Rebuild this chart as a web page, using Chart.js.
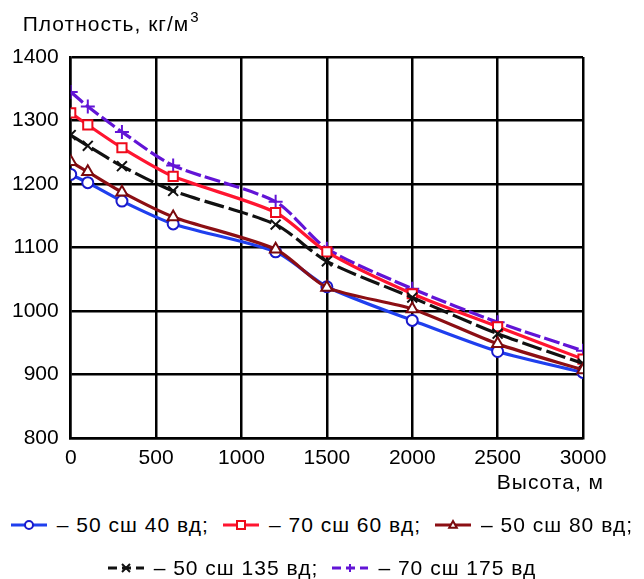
<!DOCTYPE html>
<html>
<head>
<meta charset="utf-8">
<script src="https://cdn.jsdelivr.net/npm/chart.js@4.4.1/dist/chart.umd.min.js"></script>
<style>
  html, body { margin: 0; padding: 0; background: #fff; }
  #wrap { width: 644px; height: 579px; position: relative; overflow: hidden; }
  #chart-box { width: 644px; height: 500px; position: relative; }
  #legend { position: absolute; left: 0; top: 503px; width: 644px;
            font-family: "Liberation Sans", Arial, sans-serif; font-size: 21px;
            letter-spacing: 1px; color: #000; }
  .legend-row { display: flex; justify-content: center; align-items: center; height: 43px; }
  .legend-item { display: flex; align-items: center; margin: 0 7px; white-space: nowrap; }
  .legend-item canvas { margin-right: 10px; }
</style>
</head>
<body>
<div id="wrap">
  <div id="chart-box"><canvas id="density-chart"></canvas></div>
  <div id="legend"></div>
</div>
<script>
// heights, m
var HEIGHTS = [0, 100, 300, 600, 1200, 1500, 2000, 2500, 3000];

// density, kg/m3
var N50_E40  = [1215, 1202, 1173, 1137, 1093, 1038, 985, 936, 903];
var N70_E60  = [1312, 1293, 1257, 1212, 1155, 1093, 1027, 975, 924];
var N50_E80  = [1235, 1219, 1187, 1148, 1097, 1037, 1003, 948, 907];
var N50_E135 = [1277, 1260, 1228, 1189, 1136, 1078, 1021, 964, 917];
var N70_E175 = [1345, 1322, 1282, 1229, 1172, 1098, 1035, 982, 937];

var SERIES_LABELS = ['– 50 сш 40 вд;', '– 70 сш 60 вд;', '– 50 сш 80 вд;', '– 50 сш 135 вд;', '– 70 сш 175 вд'];
var X_TICKS = [0, 500, 1000, 1500, 2000, 2500, 3000];
var Y_TICKS = [800, 900, 1000, 1100, 1200, 1300, 1400];

var Y_TITLE = 'Плотность, кг/м';
var Y_TITLE_SUP = '3';
var X_TITLE = 'Высота, м';

var FONT = '"Liberation Sans", Arial, sans-serif';
var FONT_SIZE = 21;

var STYLES = [
  { line: '#1f3fee', mark: '#1a1acc', point: 'circle',   radius: 5.5, dash: [],      order: 2 },
  { line: '#ff1530', mark: '#ee0a1a', point: 'rect',     radius: 6.5, dash: [],      order: 4 },
  { line: '#8c0f14', mark: '#7a0a0e', point: 'triangle', radius: 6.5, dash: [],      order: 1 },
  { line: '#111111', mark: '#111111', point: 'crossRot', radius: 7,   dash: [20, 5], order: 3 },
  { line: '#6214d6', mark: '#6214d6', point: 'cross',    radius: 7,   dash: [16, 4], order: 5 }
];

var LEGEND_ROWS = [[0, 1, 2], [3, 4]];

function toPoints(ys) {
  return ys.map(function (y, i) { return { x: HEIGHTS[i], y: y }; });
}

function makeDataset(label, values, st) {
  return {
    label: label,
    data: toPoints(values),
    borderColor: st.line,
    borderWidth: 3.2,
    borderDash: st.dash,
    tension: 0.25,
    pointStyle: st.point,
    pointRadius: st.radius,
    pointBorderWidth: 2,
    pointBorderColor: st.mark,
    pointBackgroundColor: '#ffffff',
    order: st.order,
    fill: false
  };
}

var datasets = [
  makeDataset(SERIES_LABELS[0], N50_E40, STYLES[0]),
  makeDataset(SERIES_LABELS[1], N70_E60, STYLES[1]),
  makeDataset(SERIES_LABELS[2], N50_E80, STYLES[2]),
  makeDataset(SERIES_LABELS[3], N50_E135, STYLES[3]),
  makeDataset(SERIES_LABELS[4], N70_E175, STYLES[4])
];

// titles sit outside the normal Chart.js places, so draw them here
var axisTitles = {
  id: 'axisTitles',
  afterDraw: function (chart) {
    var ctx = chart.ctx;
    var area = chart.chartArea;
    ctx.save();
    ctx.fillStyle = '#000';
    ctx.textBaseline = 'middle';
    ctx.textAlign = 'left';
    ctx.letterSpacing = '1px';
    ctx.font = FONT_SIZE + 'px ' + FONT;
    var tx = area.left - 48, ty = area.top - 32;
    ctx.fillText(Y_TITLE, tx, ty);
    var w = ctx.measureText(Y_TITLE).width;
    ctx.font = '15px ' + FONT;
    ctx.fillText(Y_TITLE_SUP, tx + w + 1, ty - 7);
    ctx.font = FONT_SIZE + 'px ' + FONT;
    ctx.textAlign = 'right';
    ctx.fillText(X_TITLE, area.right + 21, area.bottom + 45);
    ctx.restore();
  }
};

function drawMarker(ctx, type, x, y, r) {
  ctx.beginPath();
  if (type === 'circle') {
    ctx.arc(x, y, r, 0, Math.PI * 2);
    ctx.fill(); ctx.stroke();
  } else if (type === 'rect') {
    ctx.rect(x - r, y - r, r * 2, r * 2);
    ctx.fill(); ctx.stroke();
  } else if (type === 'triangle') {
    ctx.moveTo(x, y - r);
    ctx.lineTo(x + r * 0.95, y + r * 0.7);
    ctx.lineTo(x - r * 0.95, y + r * 0.7);
    ctx.closePath();
    ctx.fill(); ctx.stroke();
  } else if (type === 'crossRot') {
    ctx.moveTo(x - r, y - r); ctx.lineTo(x + r, y + r);
    ctx.moveTo(x + r, y - r); ctx.lineTo(x - r, y + r);
    ctx.stroke();
  } else {
    ctx.moveTo(x - r, y); ctx.lineTo(x + r, y);
    ctx.moveTo(x, y - r); ctx.lineTo(x, y + r);
    ctx.stroke();
  }
}

function buildLegend(chart) {
  var box = document.getElementById('legend');
  box.innerHTML = '';
  LEGEND_ROWS.forEach(function (row) {
    var rowEl = document.createElement('div');
    rowEl.className = 'legend-row';
    row.forEach(function (i) {
      var ds = chart.data.datasets[i];
      var st = STYLES[i];
      var item = document.createElement('div');
      item.className = 'legend-item';
      var icon = document.createElement('canvas');
      icon.width = 36; icon.height = 20;
      var c = icon.getContext('2d');
      c.strokeStyle = ds.borderColor;
      c.lineWidth = 3;
      if (st.dash.length) c.setLineDash([9, 5]);
      c.beginPath(); c.moveTo(0, 10); c.lineTo(36, 10); c.stroke();
      c.setLineDash([]);
      c.fillStyle = '#fff';
      c.strokeStyle = st.mark;
      c.lineWidth = 2;
      drawMarker(c, st.point, 18, 10, 4);
      var txt = document.createElement('span');
      txt.textContent = ds.label;
      item.appendChild(icon);
      item.appendChild(txt);
      rowEl.appendChild(item);
    });
    box.appendChild(rowEl);
  });
}

var chart = new Chart(document.getElementById('density-chart'), {
  type: 'line',
  data: { datasets: datasets },
  plugins: [axisTitles],
  options: {
    responsive: true,
    maintainAspectRatio: false,
    animation: false,
    layout: { padding: { left: 0, right: 61, top: 57, bottom: 21 } },
    plugins: {
      legend: { display: false },
      tooltip: { enabled: false }
    },
    scales: {
      x: {
        type: 'linear',
        min: 0,
        max: 3000,
        afterBuildTicks: function (scale) {
          scale.ticks = X_TICKS.map(function (v) { return { value: v }; });
        },
        grid: { color: '#000', lineWidth: 2.5, drawTicks: false },
        border: { color: '#000', width: 2.5 },
        ticks: {
          color: '#000', padding: 8, maxRotation: 0,
          font: { family: FONT, size: FONT_SIZE },
          callback: function (v) { return String(v); }
        }
      },
      y: {
        min: 800,
        max: 1400,
        afterBuildTicks: function (scale) {
          scale.ticks = Y_TICKS.map(function (v) { return { value: v }; });
        },
        grid: { color: '#000', lineWidth: 2.5, drawTicks: false },
        border: { color: '#000', width: 2.5 },
        ticks: {
          color: '#000', padding: 12,
          font: { family: FONT, size: FONT_SIZE },
          callback: function (v) { return String(v); }
        }
      }
    }
  }
});

buildLegend(chart);
</script>
</body>
</html>
